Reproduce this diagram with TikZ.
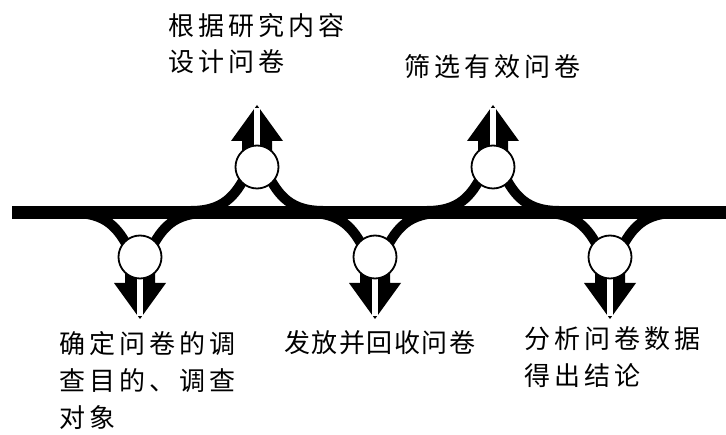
\documentclass[tikz,border=0pt]{standalone}
\usepackage{fontspec}
\usetikzlibrary{calc}
\newfontfamily\cjk[LetterSpace=16]{Noto Sans CJK SC}
\newfontfamily\cjknarrow[LetterSpace=6]{Noto Sans CJK SC}
\begin{document}
\begin{tikzpicture}[x=1pt,y=-1pt,
  bar/.style={line width=13pt},
  branch/.style={line width=10pt},
  gap/.style={white,line width=6pt},
  hub/.style={circle,draw=black,line width=1.8pt,fill=white,minimum size=43pt,inner sep=0pt},
  lbl/.style={font=\cjk\fontsize{26}{37}\selectfont,align=left,inner sep=0pt,anchor=north west}]
\useasboundingbox (0,0) rectangle (726,435);
% junction centres
\coordinate (h1) at (140,257);
\coordinate (h2) at (257,167);
\coordinate (h3) at (375,257);
\coordinate (h4) at (493,167);
\coordinate (h5) at (610,257);
% main line
\coordinate (L) at (12,213);
\coordinate (R) at (726,213);
\draw[bar] (L) -- (R);
% branches and arrows
\foreach \h/\s in {h1/1,h2/-1,h3/1,h4/-1,h5/1}{
  \draw[branch] ($(\h)+(-66,-44*\s)$) .. controls ($(\h)+(-34,-44*\s)$) and ($(\h)+(-22,-29*\s)$) .. ($(\h)+(-11,-8*\s)$);
  \draw[branch] ($(\h)+(66,-44*\s)$) .. controls ($(\h)+(34,-44*\s)$) and ($(\h)+(22,-29*\s)$) .. ($(\h)+(11,-8*\s)$);
  \fill ($(\h)+(-15,0)$) -- ($(\h)+(-15,26*\s)$) -- ($(\h)+(-26,26*\s)$) -- ($(\h)+(0,62*\s)$)
        -- ($(\h)+(26,26*\s)$) -- ($(\h)+(15,26*\s)$) -- ($(\h)+(15,0)$) -- cycle;
  \draw[gap] (\h) -- ($(\h)+(0,59*\s)$);
}
% junction circles
\node[hub] (c1) at (h1) {};
\node[hub] (c2) at (h2) {};
\node[hub] (c3) at (h3) {};
\node[hub] (c4) at (h4) {};
\node[hub] (c5) at (h5) {};
% labels
\node[lbl] (t1) at (59,331) {确定问卷的调\\查目的、调查\\对象};
\node[lbl,font=\cjk\fontsize{26}{36}\selectfont] (t2) at (168,13) {根据研究内容\\设计问卷};
\node[lbl,font=\cjknarrow\fontsize{26}{37}\selectfont] (t3) at (284,330) {发放并回收问卷};
\node[lbl] (t4) at (404,54) {筛选有效问卷};
\node[lbl] (t5) at (524,326) {分析问卷数据\\得出结论};
\end{tikzpicture}
\end{document}
